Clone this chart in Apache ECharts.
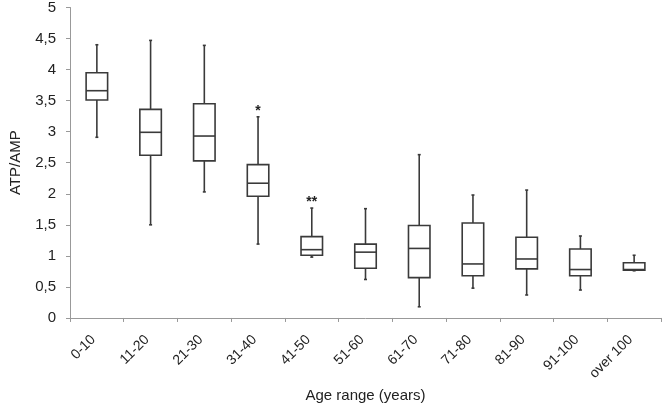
<!DOCTYPE html>
<html><head><meta charset="utf-8">
<script src="https://cdn.jsdelivr.net/npm/echarts@6/dist/echarts.min.js"></script>
<style>html,body{margin:0;padding:0;background:#fff}#c{width:663px;height:408px}</style>
</head><body><div id="c"></div>
<script>
var categories = ['0-10','11-20','21-30','31-40','41-50','51-60','61-70','71-80','81-90','91-100','over 100'];
var whiskerLow = [2.91, 1.50, 2.03, 1.19, 0.98, 0.62, 0.18, 0.48, 0.37, 0.45, 0.76];
var q1         = [3.51, 2.62, 2.53, 1.96, 1.01, 0.80, 0.65, 0.68, 0.79, 0.68, 0.77];
var median     = [3.66, 2.99, 2.93, 2.17, 1.10, 1.06, 1.12, 0.87, 0.95, 0.78, 0.78];
var q3         = [3.95, 3.36, 3.45, 2.47, 1.31, 1.19, 1.49, 1.53, 1.30, 1.11, 0.89];
var whiskerHigh= [4.40, 4.47, 4.39, 3.24, 1.77, 1.76, 2.63, 1.98, 2.06, 1.32, 1.01];
var marks      = ['', '', '', '*', '**', '', '', '', '', '', ''];
var yTicks = {min: 0, max: 5, interval: 0.5};

var FONT = '"Liberation Sans", Arial, sans-serif';
var LINE = '#3a3a3a';
var data = categories.map(function (c, i) {
  return [i, whiskerLow[i], q1[i], median[i], q3[i], whiskerHigh[i]];
});

var chart = echarts.init(document.getElementById('c'), null, {renderer: 'canvas'});
chart.setOption({
  animation: false,
  backgroundColor: '#fff',
  grid: {left: 59, right: 2, top: 5, bottom: 84, containLabel: false},
  xAxis: {
    type: 'category', data: categories, boundaryGap: true,
    axisLine: {lineStyle: {color: '#999', width: 1}},
    axisTick: {show: true, length: 4, lineStyle: {color: '#999'}},
    axisLabel: {rotate: 45, color: '#222', fontSize: 14, fontFamily: FONT, margin: 16,
      padding: [0, 5, 0, 0], interval: 0},
    name: 'Age range (years)', nameLocation: 'middle', nameGap: 66,
    nameTextStyle: {color: '#222', fontSize: 15, fontFamily: FONT}
  },
  yAxis: {
    type: 'value', min: yTicks.min, max: yTicks.max, interval: yTicks.interval,
    splitLine: {show: false},
    axisLine: {show: true, lineStyle: {color: '#999', width: 1}},
    axisTick: {show: true, length: 4, lineStyle: {color: '#999'}},
    axisLabel: {color: '#222', fontSize: 15, fontFamily: FONT, margin: 14,
      formatter: function (v) { return String(v).replace('.', ','); }},
    name: 'ATP/AMP', nameLocation: 'middle', nameGap: 47, nameRotate: 90,
    nameTextStyle: {color: '#222', fontSize: 15, fontFamily: FONT}
  },
  series: [{
    type: 'custom',
    data: data,
    encode: {x: 0, y: [1, 2, 3, 4, 5]},
    renderItem: function (params, api) {
      var i = api.value(0);
      var pLow = api.coord([i, api.value(1)]);
      var pQ1 = api.coord([i, api.value(2)]);
      var pMed = api.coord([i, api.value(3)]);
      var pQ3 = api.coord([i, api.value(4)]);
      var pHigh = api.coord([i, api.value(5)]);
      var cx = pMed[0];
      var hw = api.size([1, 0])[0] * 0.2;
      var st = {stroke: LINE, lineWidth: 1.6, fill: null};
      var children = [
        {type: 'line', shape: {x1: cx, y1: pHigh[1], x2: cx, y2: pQ3[1]}, style: st},
        {type: 'line', shape: {x1: cx, y1: pQ1[1], x2: cx, y2: pLow[1]}, style: st},
        {type: 'line', shape: {x1: cx - 1.5, y1: pHigh[1], x2: cx + 1.5, y2: pHigh[1]}, style: st},
        {type: 'line', shape: {x1: cx - 1.5, y1: pLow[1], x2: cx + 1.5, y2: pLow[1]}, style: st},
        {type: 'rect', shape: {x: cx - hw, y: pQ3[1], width: hw * 2, height: pQ1[1] - pQ3[1]},
          style: {stroke: LINE, lineWidth: 1.6, fill: '#fff'}},
        {type: 'line', shape: {x1: cx - hw, y1: pMed[1], x2: cx + hw, y2: pMed[1]}, style: st}
      ];
      var m = marks[params.dataIndex];
      if (m) {
        children.push({type: 'text', x: cx, y: pHigh[1] - 6,
          style: {text: m, fill: '#222', font: 'bold 14px ' + FONT, align: 'center', verticalAlign: 'middle'}});
      }
      return {type: 'group', children: children};
    }
  }]
});
</script></body></html>
